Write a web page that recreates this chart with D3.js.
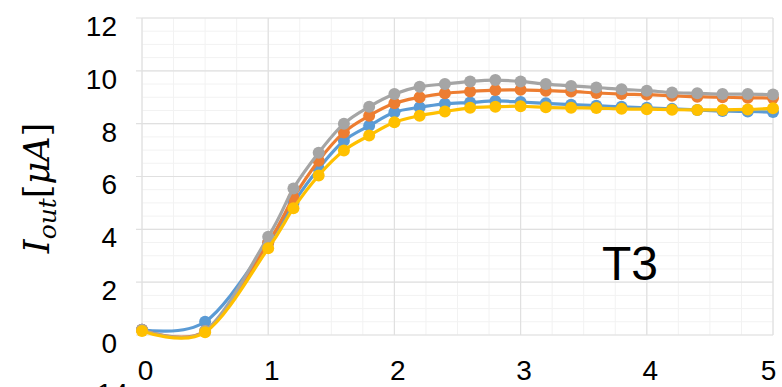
<!DOCTYPE html>
<html>
<head>
<meta charset="utf-8">
<script src="https://cdn.jsdelivr.net/npm/d3@7"></script>
<style>
  html, body { margin: 0; padding: 0; background: #fff; }
  svg { display: block; }
</style>
</head>
<body>
<svg id="chart" width="782" height="387"></svg>
<script>
// Sample times (x) shared by all four series
const xs = [0, 0.5, 1.0, 1.2, 1.4, 1.6, 1.8, 2.0, 2.2, 2.4, 2.6, 2.8, 3.0,
            3.2, 3.4, 3.6, 3.8, 4.0, 4.2, 4.4, 4.6, 4.8, 5.0];

// Output current per series, µA
const blueVals   = [0.2, 0.5, 3.5, 5.0, 6.3, 7.35, 7.92, 8.43, 8.62, 8.75, 8.8, 8.86, 8.82,
                    8.77, 8.72, 8.68, 8.64, 8.6, 8.56, 8.52, 8.48, 8.46, 8.44];
const orangeVals = [0.2, 0.15, 3.5, 5.2, 6.6, 7.67, 8.3, 8.77, 9.0, 9.15, 9.22, 9.27, 9.28,
                    9.25, 9.22, 9.16, 9.12, 9.1, 9.06, 9.02, 9.0, 8.98, 8.97];
const grayVals   = [0.2, 0.15, 3.72, 5.55, 6.9, 8.0, 8.64, 9.12, 9.4, 9.5, 9.6, 9.65, 9.6,
                    9.5, 9.43, 9.37, 9.3, 9.25, 9.18, 9.15, 9.12, 9.12, 9.1];
const yellowVals = [0.15, 0.1, 3.28, 4.8, 6.04, 6.98, 7.55, 8.05, 8.3, 8.46, 8.6, 8.64, 8.66,
                    8.62, 8.6, 8.59, 8.56, 8.55, 8.53, 8.52, 8.52, 8.54, 8.58];

const seriesList = [
  { name: "s1", color: "#5b9bd5", values: blueVals },
  { name: "s2", color: "#ed7d31", values: orangeVals },
  { name: "s3", color: "#a5a5a5", values: grayVals },
  { name: "s4", color: "#ffc000", values: yellowVals }
];

const xTicks = [0, 1, 2, 3, 4, 5];
const yTicks = [0, 2, 4, 6, 8, 10, 12];

const svg = d3.select("#chart");
const plotLeft = 142, plotRight = 773, plotTop = 18, plotBottom = 335;

const x = d3.scaleLinear().domain([0, 5]).range([plotLeft, plotRight]);
const y = d3.scaleLinear().domain([0, 12]).range([plotBottom, plotTop]);

// minor grid
const grid = svg.append("g");
grid.selectAll("line.mx")
  .data(d3.range(0, 5.001, 0.25))
  .join("line")
  .attr("x1", d => x(d)).attr("x2", d => x(d))
  .attr("y1", plotTop).attr("y2", plotBottom)
  .attr("stroke", "#f2f2f2").attr("stroke-width", 1);
grid.selectAll("line.my")
  .data(d3.range(0, 12.001, 0.5))
  .join("line")
  .attr("x1", plotLeft).attr("x2", plotRight)
  .attr("y1", d => y(d)).attr("y2", d => y(d))
  .attr("stroke", "#f2f2f2").attr("stroke-width", 1);

// major grid
grid.selectAll("line.gx")
  .data(xTicks)
  .join("line")
  .attr("x1", d => x(d)).attr("x2", d => x(d))
  .attr("y1", plotTop).attr("y2", plotBottom)
  .attr("stroke", "#e0e0e0").attr("stroke-width", 1.2);
grid.selectAll("line.gy")
  .data(yTicks)
  .join("line")
  .attr("x1", plotLeft - 6).attr("x2", plotRight)
  .attr("y1", d => y(d)).attr("y2", d => y(d))
  .attr("stroke", "#e0e0e0").attr("stroke-width", 1.2);

// axes (labels only)
const fontTick = "'Liberation Sans', Arial, sans-serif";
const yAxis = svg.append("g")
  .attr("transform", `translate(${plotLeft - 25},0)`)
  .call(d3.axisLeft(y).tickValues(yTicks).tickSize(0).tickPadding(0).tickFormat(d3.format("d")));
yAxis.select(".domain").remove();
yAxis.selectAll("text")
  .attr("font-family", fontTick).attr("font-size", 28).attr("fill", "#000")
  .attr("dy", "0.62em");

const xAxis = svg.append("g")
  .attr("transform", `translate(0,${plotBottom})`)
  .call(d3.axisBottom(x).tickValues(xTicks).tickSize(0).tickPadding(0).tickFormat(d3.format("d")));
xAxis.select(".domain").remove();
xAxis.selectAll("text")
  .attr("font-family", fontTick).attr("font-size", 28).attr("fill", "#000")
  .attr("dy", "1.62em")
  .attr("dx", d => d === 5 ? -5 : 3);

// series lines and markers
const line = d3.line()
  .x((d, i) => x(xs[i]))
  .y(d => y(d))
  .curve(d3.curveCardinal.tension(0));

seriesList.forEach(s => {
  const g = svg.append("g");
  g.append("path")
    .datum(s.values)
    .attr("d", line)
    .attr("fill", "none")
    .attr("stroke", s.color)
    .attr("stroke-width", 3.2);
  g.selectAll("circle")
    .data(s.values)
    .join("circle")
    .attr("cx", (d, i) => x(xs[i]))
    .attr("cy", d => y(d))
    .attr("r", 6)
    .attr("fill", s.color);
});

// y-axis title: I_out [µA]
const title = svg.append("text")
  .attr("transform", "translate(49,188) rotate(-90)")
  .attr("text-anchor", "middle")
  .attr("font-family", "'DejaVu Serif', 'Liberation Serif', serif")
  .attr("font-style", "italic")
  .attr("font-size", 35)
  .attr("fill", "#000");
title.append("tspan").text("I");
title.append("tspan").attr("font-size", 25).attr("dy", 7).text("out");
title.append("tspan").attr("dy", -7).attr("font-style", "normal").text("[");
title.append("tspan").text("μA");
title.append("tspan").attr("font-style", "normal").text("]");

// panel label
svg.append("text")
  .attr("x", 602).attr("y", 280)
  .attr("font-family", fontTick)
  .attr("font-size", 48)
  .attr("fill", "#000")
  .text("T3");

// top of the next panel's axis label
svg.append("text")
  .attr("x", 128).attr("y", 403)
  .attr("text-anchor", "end")
  .attr("font-family", fontTick)
  .attr("font-size", 28)
  .attr("fill", "#000")
  .text("14");
</script>
</body>
</html>
